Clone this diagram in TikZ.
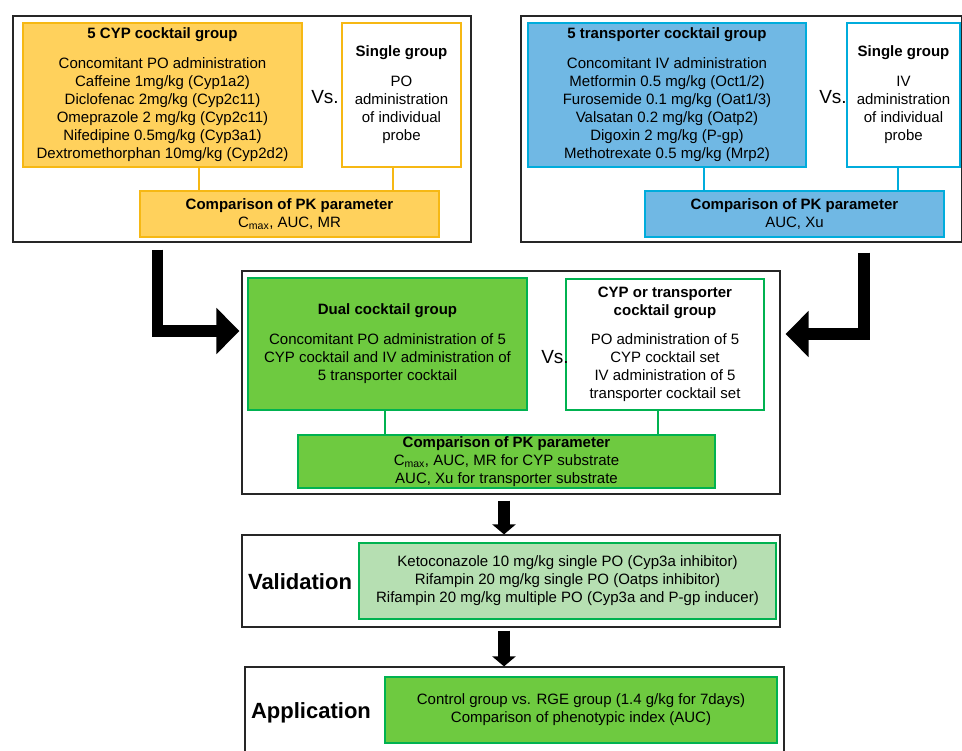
\documentclass[tikz,border=0pt]{standalone}
\usepackage{fontspec}
\setmainfont{Liberation Sans}
\usetikzlibrary{arrows.meta}
\usetikzlibrary{calc}

\definecolor{cypfill}{RGB}{255,209,92}
\definecolor{cypline}{RGB}{246,184,20}
\definecolor{trfill}{RGB}{112,184,228}
\definecolor{trline}{RGB}{0,172,220}
\definecolor{dualfill}{RGB}{110,202,64}
\definecolor{dualline}{RGB}{0,178,80}
\definecolor{valfill}{RGB}{182,223,178}

\tikzset{
  outerbox/.style={draw=black!85, line width=1.2pt, inner sep=0pt},
  group/.style={line width=1.6pt, align=center, inner sep=0pt, font=\fontsize{15}{18}\selectfont},
  vs/.style={font=\fontsize{19}{22}\selectfont},
  stage/.style={font=\fontsize{22}{26}\selectfont\bfseries},
  fatarrow/.style={line width=11.5pt, -{Triangle[length=23pt,width=45pt]}},
  downarrow/.style={line width=12pt, -{Triangle[length=10pt,width=23pt]}},
}

\begin{document}
\begin{tikzpicture}[x=1pt, y=-1pt]

\useasboundingbox (0,0) rectangle (962,751);

% CYP cocktail (top left)
\node[outerbox, minimum width=458pt, minimum height=226pt] (cypframe) at (242,129) {};
\node[group, draw=cypline, fill=cypfill, minimum width=279pt, minimum height=144pt] (cyp) at (162.5,95)
  {\textbf{5 CYP cocktail group}\\[12pt]Concomitant PO administration\\Caffeine 1mg/kg (Cyp1a2)\\Diclofenac 2mg/kg (Cyp2c11)\\Omeprazole 2 mg/kg (Cyp2c11)\\Nifedipine 0.5mg/kg (Cyp3a1)\\Dextromethorphan 10mg/kg (Cyp2d2)};
\node[group, draw=cypline, fill=white, minimum width=119pt, minimum height=144pt] (cypsingle) at (401.5,95)
  {\textbf{Single group}\\[12pt]PO\\administration\\of individual\\probe};
\node[vs] (cypvs) at (325,97) {Vs.};
\node[group, draw=cypline, fill=cypfill, minimum width=299pt, minimum height=46pt] (cypcomp) at (289.5,214)
  {\textbf{Comparison of PK parameter}\\C\textsubscript{max}, AUC, MR};
\draw[cypline, line width=2pt] ([xshift=36.5pt]cyp.south) -- ([xshift=-90.5pt]cypcomp.north);
\draw[cypline, line width=2pt] ([xshift=-8.5pt]cypsingle.south) -- ([xshift=103.5pt]cypcomp.north);

% transporter cocktail (top right)
\node[outerbox, minimum width=441pt, minimum height=226pt] (trframe) at (741.5,129) {};
\node[group, draw=trline, fill=trfill, minimum width=278pt, minimum height=144pt] (tr) at (667,95)
  {\textbf{5 transporter cocktail group}\\[12pt]Concomitant IV administration\\Metformin 0.5 mg/kg (Oct1/2)\\Furosemide 0.1 mg/kg (Oat1/3)\\Valsatan 0.2 mg/kg (Oatp2)\\Digoxin 2 mg/kg (P-gp)\\Methotrexate 0.5 mg/kg (Mrp2)};
\node[group, draw=trline, fill=white, minimum width=113pt, minimum height=144pt] (trsingle) at (903.5,95)
  {\textbf{Single group}\\[12pt]IV\\administration\\of individual\\probe};
\node[vs] (trvs) at (833,97) {Vs.};
\node[group, draw=trline, fill=trfill, minimum width=299pt, minimum height=46pt] (trcomp) at (794.5,214)
  {\textbf{Comparison of PK parameter}\\AUC, Xu};
\draw[trline, line width=2pt] ([xshift=37pt]tr.south) -- ([xshift=-90.5pt]trcomp.north);
\draw[trline, line width=2pt] ([xshift=-5.5pt]trsingle.south) -- ([xshift=103.5pt]trcomp.north);

% dual cocktail (middle)
\node[outerbox, minimum width=538pt, minimum height=223pt] (midframe) at (511,382.5) {};
\node[group, draw=dualline, fill=dualfill, minimum width=279pt, minimum height=132pt] (dual) at (387.5,344)
  {\textbf{Dual cocktail group}\\[12pt]Concomitant PO administration of 5\\CYP cocktail and IV administration of\\5 transporter cocktail};
\node[group, draw=dualline, fill=white, minimum width=198pt, minimum height=131pt] (cypor) at (665,344.5)
  {\textbf{CYP or transporter}\\\textbf{cocktail group}\\[11pt]PO administration of 5\\CYP cocktail set\\IV administration of 5\\transporter cocktail set};
\node[vs] (midvs) at (555,357) {Vs.};
\node[group, draw=dualline, fill=dualfill, minimum width=417pt, minimum height=53pt] (midcomp) at (506.5,461.5)
  {\textbf{Comparison of PK parameter}\\C\textsubscript{max}, AUC, MR for CYP substrate\\AUC, Xu for transporter substrate};
\draw[dualline, line width=2pt] ([xshift=-2.5pt]dual.south) -- ([xshift=-121.5pt]midcomp.north);
\draw[dualline, line width=2pt] ([xshift=-7pt]cypor.south) -- ([xshift=151.5pt]midcomp.north);

% bent arrows into the middle
\draw[fatarrow] ([shift={(-84.5pt,-7pt)}]cypframe.south) |- ([shift={(-2pt,51.5pt)}]midframe.west);
\draw[fatarrow] ([shift={(122.5pt,-10pt)}]trframe.south) |- ([shift={(5pt,48.5pt)}]midframe.east);

% validation
\node[outerbox, minimum width=538pt, minimum height=92pt] (valframe) at (511,581) {};
\node[stage] (valtitle) at (300,582) {Validation};
\node[group, draw=dualline, fill=valfill, minimum width=417pt, minimum height=76pt] (val) at (567.5,581)
  {Ketoconazole 10 mg/kg single PO (Cyp3a inhibitor)\\Rifampin 20 mg/kg single PO (Oatps inhibitor)\\Rifampin 20 mg/kg multiple PO (Cyp3a and P-gp inducer)};

% application
\node[outerbox, minimum width=539pt, minimum height=93pt] (appframe) at (514.5,713.5) {};
\node[stage] (apptitle) at (311,713) {Application};
\node[group, draw=dualline, fill=dualfill, minimum width=392pt, minimum height=66pt] (app) at (581,710)
  {Control group vs. RGE group (1.4 g/kg for 7days)\\Comparison of phenotypic index (AUC)};

% straight arrows down
\draw[downarrow] ([shift={(-7pt,-6pt)}]midframe.south) -- ([xshift=-7pt]valframe.north);
\draw[downarrow] ([shift={(-7pt,-3pt)}]valframe.south) -- ([xshift=-10.5pt]appframe.north);

\end{tikzpicture}
\end{document}
